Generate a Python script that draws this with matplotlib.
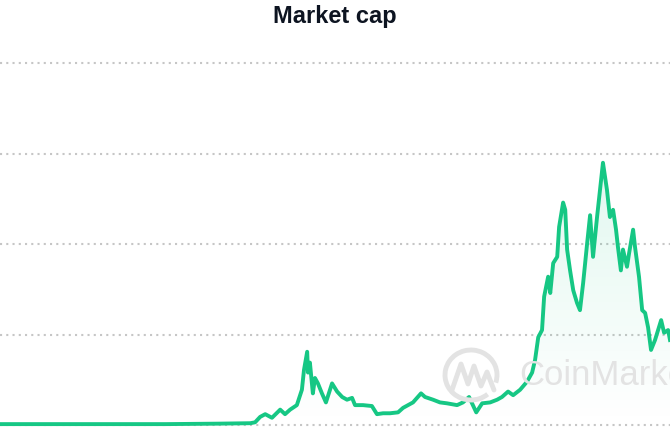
import matplotlib
matplotlib.use('Agg')
import matplotlib.pyplot as plt
import matplotlib.dates as mdates
from matplotlib.patches import Arc
from matplotlib.lines import Line2D
from matplotlib.colors import LinearSegmentedColormap
import numpy as np
import pandas as pd

# total market cap, trillions USD
dates = ['2014-01-05', '2014-09-01', '2015-06-01', '2016-03-01', '2016-11-01',
         '2017-04-06', '2017-04-29', '2017-05-23', '2017-06-16', '2017-07-18',
         '2017-08-26', '2017-09-18', '2017-10-12', '2017-11-13', '2017-12-07',
         '2017-12-17', '2018-01-01', '2018-01-05', '2018-01-14', '2018-01-28',
         '2018-02-07', '2018-02-21', '2018-03-12', '2018-03-31', '2018-04-29',
         '2018-05-23', '2018-06-16', '2018-07-09', '2018-08-02', '2018-08-16',
         '2018-09-23', '2018-11-04', '2018-11-28', '2018-12-27', '2019-01-29',
         '2019-03-08', '2019-04-01', '2019-05-18', '2019-06-25', '2019-07-14',
         '2019-08-21', '2019-09-23', '2019-10-26', '2019-12-13', '2020-01-10',
         '2020-02-08', '2020-03-13', '2020-04-10', '2020-05-18', '2020-06-20',
         '2020-07-13', '2020-08-11', '2020-09-04', '2020-10-07', '2020-11-09',
         '2020-12-03', '2020-12-17', '2021-01-01', '2021-01-19', '2021-01-29',
         '2021-02-17', '2021-02-27', '2021-03-13', '2021-04-01', '2021-04-10',
         '2021-04-29', '2021-05-09', '2021-05-18', '2021-06-01', '2021-06-16',
         '2021-07-04', '2021-07-18', '2021-08-02', '2021-08-21', '2021-09-04',
         '2021-09-18', '2021-10-07', '2021-10-21', '2021-11-04', '2021-11-23',
         '2021-12-07', '2021-12-22', '2022-01-05', '2022-01-14', '2022-01-28',
         '2022-02-07', '2022-02-26', '2022-03-08', '2022-03-27', '2022-04-05',
         '2022-04-24', '2022-05-09', '2022-05-23', '2022-06-06', '2022-06-20',
         '2022-07-09', '2022-08-07', '2022-08-21', '2022-09-09', '2022-09-18']
market_cap = [0.01, 0.01, 0.01, 0.01, 0.015,
              0.02, 0.03, 0.09, 0.12, 0.08,
              0.17, 0.12, 0.17, 0.22, 0.39,
              0.61, 0.81, 0.58, 0.69, 0.35,
              0.52, 0.46, 0.35, 0.25, 0.46,
              0.37, 0.31, 0.28, 0.30, 0.22,
              0.22, 0.21, 0.12, 0.13, 0.13,
              0.14, 0.19, 0.25, 0.35, 0.31,
              0.28, 0.25, 0.24, 0.22, 0.25,
              0.31, 0.14, 0.24, 0.25, 0.28,
              0.31, 0.37, 0.33, 0.39, 0.48,
              0.58, 0.72, 0.97, 1.05, 1.42,
              1.64, 1.46, 1.79, 1.86, 2.19,
              2.46, 2.38, 1.94, 1.71, 1.49,
              1.35, 1.27, 1.57, 2.01, 2.32,
              1.86, 2.30, 2.60, 2.90, 2.60,
              2.30, 2.38, 2.16, 1.97, 1.71,
              1.94, 1.75, 1.90, 2.16, 1.97,
              1.64, 1.27, 1.24, 1.08, 0.83,
              0.94, 1.16, 1.02, 1.05, 0.94]
grid_levels = [0, 1, 2, 3, 4]

x = pd.to_datetime(dates)
y = np.array(market_cap)

GREEN = '#16c784'
W, H = 670, 446

fig = plt.figure(figsize=(6.7, 4.46), dpi=100)
ax = fig.add_axes([0, 0, 1, 1])
ax.set_xlim(x[0], x[-1])
ax.set_ylim(-0.232, 4.70)
ax.axis('off')

for g in grid_levels:
    ax.axhline(g, color='#c6c6c6', lw=1.5, linestyle=(0, (1, 2)), zorder=1)

# watermark (logo + name), drawn behind everything
wm = '#e3e3e3'
fig.patches.append(Arc((471 / W, 1 - 375 / H), 52 / W, 50 / H, theta1=-25, theta2=300,
                       transform=fig.transFigure, color=wm, lw=3.5, zorder=0))
px = np.array([452, 461, 468, 474, 481, 487, 494])
py = np.array([390, 364, 384, 366, 386, 372, 390])
fig.lines.append(Line2D(px / W, 1 - py / H, transform=fig.transFigure, color=wm,
                        lw=3.5, solid_joinstyle='round', solid_capstyle='round', zorder=0))
fig.text(519 / W, 1 - 375 / H, 'CoinMarketCap', fontsize=25, color=wm,
         ha='left', va='center', family='Liberation Sans', zorder=0)

# gradient fill under the line
poly = ax.fill_between(x, y, -0.3, color='none', lw=0)
cmap = LinearSegmentedColormap.from_list('g', [(0.086, 0.78, 0.52, 0.0), (0.086, 0.78, 0.52, 0.13)])
grad = np.linspace(0, 1, 256).reshape(-1, 1)
xl = mdates.date2num(x[0]), mdates.date2num(x[-1])
img = ax.imshow(grad, cmap=cmap, aspect='auto', origin='lower',
                extent=[xl[0], xl[1], 0, 3.0], zorder=2)
img.set_clip_path(poly.get_paths()[0], transform=ax.transData)

ax.plot(x, y, color=GREEN, lw=2.8, zorder=3, solid_joinstyle='round')

fig.text(0.5, 1 - 17 / H, 'Market cap', ha='center', va='center',
         fontsize=17, fontweight='bold', color='#0d1421', family='Liberation Sans')

fig.savefig('out.png', dpi=100)
